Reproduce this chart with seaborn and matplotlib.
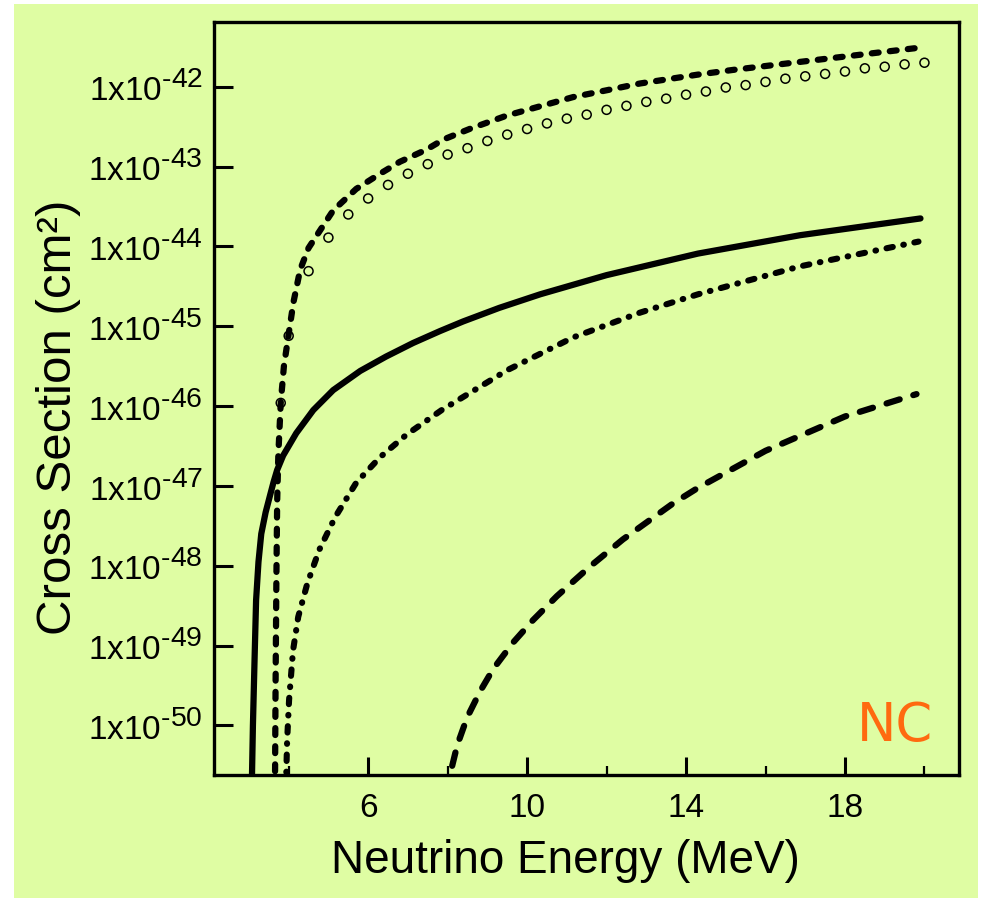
import numpy as np
import pandas as pd
import matplotlib
matplotlib.use("Agg")
import matplotlib.pyplot as plt
import matplotlib._mathtext as mathtext_internals
import seaborn as sns
from matplotlib.patches import Rectangle

# superscripts in the original are larger than matplotlib's default 0.7
mathtext_internals.SHRINK_FACTOR = 0.85

# -------------------------------
# Data (log10 of cross section in cm^2)
# -------------------------------
dash_e = [3.655, 3.67, 3.69, 3.71, 3.74, 3.80, 3.88, 3.99, 4.12, 4.29, 4.50, 4.75, 5.12,
          5.70, 6.30, 6.80, 7.46, 7.90, 8.6, 9.50, 11.16, 12.84, 14.28, 15.18, 17.7, 19.9]
dash_log = [-50.8, -49.5, -48.2, -47.2, -46.6, -45.96, -45.5, -45.13, -44.7, -44.29, -44.02,
            -43.83, -43.55, -43.28, -43.09, -42.94, -42.79, -42.66, -42.52, -42.36, -42.13,
            -41.96, -41.85, -41.79, -41.64, -41.51]

solid_e = [3.07, 3.10, 3.14, 3.18, 3.24, 3.31, 3.42, 3.53, 3.62, 3.71, 3.86, 4.19, 4.62,
           5.12, 5.80, 6.45, 7.13, 7.81, 8.39, 9.3, 10.33, 12.0, 14.3, 16.87, 19.9]
solid_log = [-50.8, -50.0, -49.2, -48.43, -47.95, -47.6, -47.33, -47.12, -46.95, -46.8,
             -46.62, -46.34, -46.05, -45.80, -45.56, -45.38, -45.21, -45.06, -44.94, -44.77,
             -44.60, -44.36, -44.09, -43.86, -43.65]

dashdot_e = [3.93, 3.96, 4.01, 4.11, 4.24, 4.47, 4.77, 5.17, 5.70, 6.30, 6.96, 7.85, 9.50,
             11.16, 12.84, 14.30, 16.87, 19.85]
dashdot_log = [-50.8, -50.2, -49.68, -49.06, -48.64, -48.22, -47.80, -47.39, -46.96, -46.64,
               -46.36, -46.05, -45.55, -45.14, -44.83, -44.60, -44.25, -43.94]

long_e = [7.97, 8.24, 8.49, 8.82, 9.15, 9.65, 10.15, 10.75, 11.58, 12.41, 13.67, 14.28,
          16.0, 18.0, 19.8]
long_log = [-50.8, -50.25, -49.90, -49.57, -49.29, -48.96, -48.68, -48.38, -48.01, -47.67,
            -47.22, -47.03, -46.56, -46.13, -45.85]

circ_e = [3.8, 4.0, 4.5, 5.0, 5.5, 6.0, 6.5, 7.0, 7.5, 8.0, 8.5, 9.0, 9.5, 10.0, 10.5, 11.0,
          11.5, 12.0, 12.5, 13.0, 13.5, 14.0, 14.5, 15.0, 15.5, 16.0, 16.5, 17.0, 17.5, 18.0,
          18.5, 19.0, 19.5, 20.0]
circ_log = [-45.96, -45.12, -44.31, -43.89, -43.60, -43.40, -43.23, -43.09, -42.97, -42.85,
            -42.77, -42.68, -42.60, -42.53, -42.46, -42.40, -42.35, -42.29, -42.24, -42.19,
            -42.15, -42.10, -42.06, -42.01, -41.98, -41.94, -41.90, -41.87, -41.84, -41.81,
            -41.77, -41.75, -41.72, -41.70]

y_exps = [-50, -49, -48, -47, -46, -45, -44, -43, -42]
x_major = [6, 10, 14, 18]
x_minor = [4, 8, 12, 16, 20]

# -------------------------------
# Style
# -------------------------------
sns.set_style("ticks")
plt.rcParams["font.family"] = ["Liberation Sans", "DejaVu Sans"]
plt.rcParams["mathtext.fontset"] = "custom"
plt.rcParams["mathtext.rm"] = "Liberation Sans"
plt.rcParams["mathtext.it"] = "Liberation Sans:italic"
plt.rcParams["mathtext.bf"] = "Liberation Sans:bold"
for key in ["text.color", "axes.labelcolor", "xtick.color", "ytick.color"]:
    plt.rcParams[key] = "black"

green = "#dffda3"

fig = plt.figure(figsize=(9.82, 9.02), dpi=100, facecolor="white")
fig.patches.append(Rectangle((0.0143, 0.0044), 0.9816, 0.9912, transform=fig.transFigure,
                             facecolor=green, edgecolor="none", zorder=-10))
ax = fig.add_axes([0.2179, 0.1408, 0.7587, 0.8348])
ax.set_facecolor(green)

curves = [
    (solid_e, solid_log, "-", 4.5),
    (dash_e, dash_log, (0, (1.1, 1.8)), 4.5),
    (dashdot_e, dashdot_log, (0, (1.05, 1.75, 0.1, 1.75)), 4.4),
    (long_e, long_log, (0.6, (2.2, 2.28)), 4.5),
]
for e, lg, ls, w in curves:
    df = pd.DataFrame({"E": e, "sigma": 10.0 ** np.array(lg)})
    sns.lineplot(data=df, x="E", y="sigma", ax=ax, color="black", lw=w, linestyle=ls,
                 estimator=None, sort=False, solid_capstyle="round", dash_capstyle="round",
                 solid_joinstyle="round")

circ_df = pd.DataFrame({"E": circ_e, "sigma": 10.0 ** np.array(circ_log)})
sns.scatterplot(data=circ_df, x="E", y="sigma", ax=ax, marker="o", s=42,
                facecolor="none", edgecolor="black", linewidth=1.1, zorder=5)

ax.set_yscale("log")
ax.set_xlim(2.12, 20.87)
ax.set_ylim(10.0 ** -50.62, 10.0 ** -41.19)

ax.set_yticks([10.0 ** k for k in y_exps])
ax.set_yticklabels([r"$\mathregular{1x10^{\text{-}%d}}$" % -k for k in y_exps])
ax.yaxis.set_minor_locator(matplotlib.ticker.NullLocator())
ax.set_xticks(x_major)
ax.set_xticks(x_minor, minor=True)
ax.set_xticklabels([str(v) for v in x_major])

ax.tick_params(axis="both", which="major", direction="in", width=2.2, labelsize=24)
ax.tick_params(axis="y", which="major", length=14, pad=8, labelsize=24)
ax.tick_params(axis="x", which="major", length=13, pad=13)
ax.tick_params(axis="x", which="minor", direction="in", length=6.5, width=1.6)
ax.tick_params(top=False, right=False)
for sp in ax.spines.values():
    sp.set_linewidth(2.4)
    sp.set_color("black")

ax.set_xlabel("Neutrino Energy (MeV)", fontsize=33)
ax.set_ylabel("Cross Section (cm²)", fontsize=35.5)
ax.xaxis.set_label_coords(0.472, -0.085)
ax.yaxis.set_label_coords(-0.178, 0.4754)

ax.text(0.965, 0.03, "NC", transform=ax.transAxes, ha="right", va="bottom",
        fontsize=38, color="#ff6a10", family=["DejaVu Sans"])

fig.savefig("out.png", dpi=100, facecolor="white")
